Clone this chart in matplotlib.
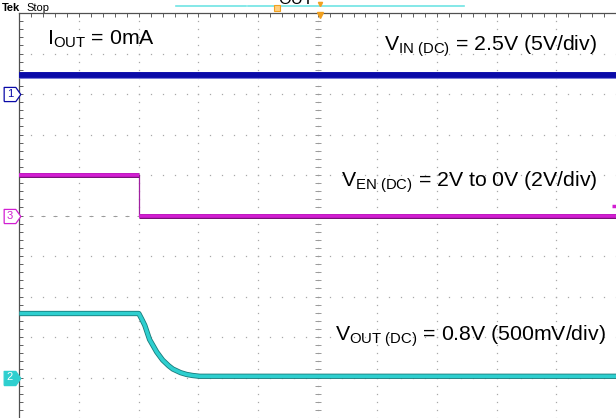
import numpy as np
import matplotlib
matplotlib.use("Agg")
import matplotlib.pyplot as plt
import matplotlib.patheffects as pe
from matplotlib.lines import Line2D

plt.rcParams['font.family'] = ['Liberation Sans', 'DejaVu Sans']
plt.rcParams['mathtext.fontset'] = 'custom'
plt.rcParams['mathtext.rm'] = 'Liberation Sans'
plt.rcParams['mathtext.it'] = 'Liberation Sans:italic'
plt.rcParams['mathtext.bf'] = 'Liberation Sans:bold'

t_vin = [-5.0, 5.0]
v_vin = [2.35, 2.35]

t_en = [-5.0, -3.0, -3.0, 5.0]
v_en = [2.0, 2.0, 0.0, 0.0]

t_out = [-5.0, -3.0, -2.95, -2.9, -2.82, -2.75, -2.7, -2.6, -2.5, -2.43, -2.3, -2.2, -2.1, -1.98, 5.0]
v_out = [0.79, 0.79, 0.72, 0.645, 0.47, 0.38, 0.315, 0.215, 0.145, 0.105, 0.06, 0.038, 0.025, 0.015, 0.015]

# kanały: skala V/div i położenie masy (działki od środka)
ch_scale = {'1': 5.0, '2': 0.5, '3': 2.0}
ch_offset = {'1': 3.0, '2': -4.0, '3': 0.0}

labels = [
    r'$\mathrm{I_{OUT}}$ = 0mA',
    r'$\mathrm{V_{IN\ (DC)}}$ = 2.5V (5V/div)',
    r'$\mathrm{V_{EN\ (DC)}}$ = 2V to 0V (2V/div)',
    r'$\mathrm{V_{OUT\ (DC)}}$ = 0.8V (500mV/div)',
]

W, H = 616, 418
BLUE = '#0a0aa8'
MAGENTA = '#d21ed2'
CYAN = '#2ecfcf'
ORANGE = '#f0a020'
GRID = '#a8a8a8'


def to_div(ch, v):
    return np.asarray(v) / ch_scale[ch] + ch_offset[ch]


def px(x, y):
    # piksele obrazka -> działki
    return (x - 319.0) / 60.0, (217.3 - y) / 40.86


fig = plt.figure(figsize=(W / 100, H / 100), dpi=100)
ax = fig.add_axes([19.5 / W, 0, (W - 19.5) / W, (H - 13) / H])
ax.set_xlim(-5, (W - 319.0) / 60.0)
ax.set_ylim((217.3 - H) / 40.86, 5)

for s in ['right', 'bottom']:
    ax.spines[s].set_visible(False)
for s in ['left', 'top']:
    ax.spines[s].set_color('#505050')
    ax.spines[s].set_linewidth(0.9)

ax.set_xticks(np.arange(-5, 5.01, 0.2))
ax.set_yticks(np.arange(-5, 5.01, 0.2))
ax.tick_params(axis='x', top=True, bottom=False, labeltop=False, labelbottom=False,
               direction='in', length=3, width=0.7, color='#606060')
ax.tick_params(axis='y', left=True, right=False, labelleft=False,
               direction='in', length=3, width=0.7, color='#606060')

# siatka kropkowana
minor = np.arange(-5, 5.01, 0.2)
for k in range(-4, 5):
    ax.plot(np.full_like(minor, k), minor, ls='none', marker='s', ms=0.9,
            color=GRID, mec='none', zorder=1)
for j in range(-4, 5):
    ax.plot(minor, np.full_like(minor, j), ls='none', marker='s', ms=0.9,
            color=GRID, mec='none', zorder=1)
# osie środkowe z podziałką
ax.plot(np.zeros_like(minor), minor, ls='none', marker='_', ms=4, mew=0.7,
        color='#9a9a9a', zorder=1)
ax.plot(minor, np.zeros_like(minor), ls='none', marker='_', ms=3, mew=0.7,
        color='#9a9a9a', zorder=1)

# przebiegi
ax.plot(t_vin, to_div('1', v_vin), color=BLUE, lw=4.2, solid_capstyle='butt', zorder=3,
        path_effects=[pe.Stroke(linewidth=5.0, foreground='#7a7ad8'), pe.Normal()])

y_en = to_div('3', v_en)
ax.plot(t_en, y_en, color='#a020a0', lw=0.9, zorder=3)
for i in range(len(t_en) - 1):
    if t_en[i] != t_en[i + 1]:
        ax.plot(t_en[i:i + 2], y_en[i:i + 2], color=MAGENTA, lw=2.6,
                solid_capstyle='butt', zorder=3,
                path_effects=[pe.Stroke(linewidth=3.6, foreground='#7a107a'), pe.Normal()])

ax.plot(t_out, to_div('2', v_out), color=CYAN, lw=2.6, solid_capstyle='butt',
        solid_joinstyle='round', zorder=3,
        path_effects=[pe.Stroke(linewidth=3.8, foreground='#1a7a7a'), pe.Normal()])

# znaczniki kanałów
pent = [(-1, -0.85), (0.4, -0.85), (1, 0), (0.4, 0.85), (-1, 0.85), (-1, -0.85)]
for ch, ec, fc, tc in [('1', BLUE, 'white', BLUE), ('3', MAGENTA, 'white', MAGENTA),
                       ('2', CYAN, CYAN, 'white')]:
    xm = -5 - 8.0 / 60.0
    ax.plot([xm], [ch_offset[ch]], marker=pent, ms=12, mfc=fc, mec=ec, mew=0.9,
            clip_on=False, zorder=5)
    ax.text(xm - 0.025, ch_offset[ch], ch, fontsize=8, color=tc, ha='center',
            va='center', clip_on=False, zorder=6)

# opisy
pos = [(47, 45), (386, 51.5), (342.5, 188.5), (336, 344)]
for lab, (x, y) in zip(labels, pos):
    xd, yd = px(x, y)
    ax.text(xd, yd, lab, fontsize=15.3, color='black', ha='left', va='baseline', zorder=7)

# pasek u góry
fx = lambda x: x / W
fy = lambda y: 1 - y / H
fig.add_artist(Line2D([fx(176), fx(246)], [fy(6), fy(6)], color='#70e4e4', lw=1.2))
fig.add_artist(Line2D([fx(248), fx(464)], [fy(6), fy(6)], color='#70e4e4', lw=1.2))
fig.text(fx(278), fy(4.5), 'OUT', fontsize=12, color='black', va='baseline', ha='left')
fig.text(fx(2), fy(11), 'Tek', fontsize=8, fontweight='bold', color='black', va='baseline')
fig.text(fx(26), fy(11), 'Stop', fontsize=8, color='black', va='baseline')
fig.add_artist(Line2D([fx(277)], [fy(8)], marker='s', ms=4, mfc='#ffd080', mec=ORANGE,
                      mew=0.8, ls='none'))
fig.add_artist(Line2D([fx(320)], [fy(3.5)], marker='v', ms=3, color=ORANGE, ls='none'))
fig.add_artist(Line2D([fx(320)], [fy(14.5)], marker='v', ms=5, color=ORANGE, ls='none'))
fig.add_artist(Line2D([fx(615)], [fy(205.5)], marker='_', ms=4, mew=2.5, color=MAGENTA,
                      ls='none'))

fig.savefig('out.png', dpi=100, facecolor='white')
